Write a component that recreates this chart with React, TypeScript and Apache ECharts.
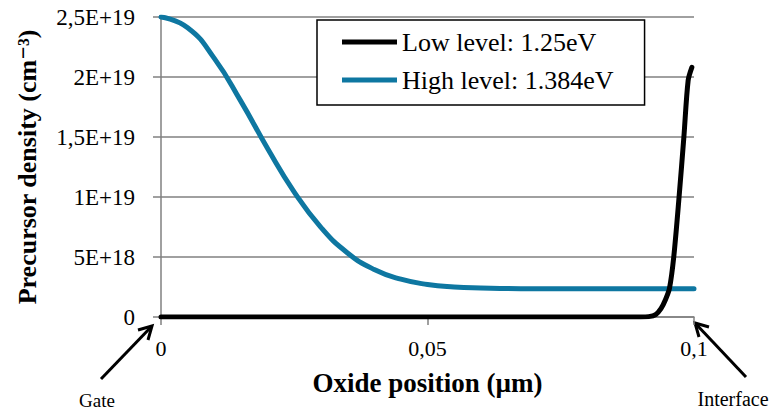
import React, { useEffect, useRef } from "react";
import * as echarts from "echarts";

// Oxide position (µm)
const lowX = [0, 0.03, 0.06, 0.085, 0.09, 0.0915, 0.0928, 0.0938, 0.0946, 0.0954, 0.0962, 0.0972, 0.0981, 0.0989, 0.0996];
const lowY = [0, 0, 0, 0, 0, 0.03e18, 0.2e18, 0.7e18, 1.4e18, 2.4e18, 5e18, 1e19, 1.5e19, 1.97e19, 2.08e19];

const highX = [0, 0.005, 0.01, 0.015, 0.02, 0.025, 0.03, 0.035, 0.04, 0.045, 0.05, 0.055, 0.06, 0.065, 0.07, 0.08, 0.09, 0.1];
const highY = [2.5e19, 2.41e19, 2.155e19, 1.797e19, 1.404e19, 1.041e19, 0.747e19, 0.534e19, 0.396e19, 0.315e19, 0.271e19, 0.25e19, 0.241e19, 0.237e19, 0.2355e19, 0.235e19, 0.235e19, 0.235e19];

const seriesNames = ["Low level: 1.25eV", "High level: 1.384eV"];
const yTickLabels = ["0", "5E+18", "1E+19", "1,5E+19", "2E+19", "2,5E+19"];
const xTickLabels = ["0", "0,05", "0,1"];

const FONT = "'Liberation Serif', 'DejaVu Serif', serif";

export default function App() {
  const ref = useRef<HTMLDivElement>(null);
  useEffect(() => {
    document.body.style.margin = "0";
    const chart = echarts.init(ref.current!, null, { renderer: "svg" });
    const grey = "#808080";
    chart.setOption({
      animation: false,
      backgroundColor: "#ffffff",
      textStyle: { fontFamily: FONT },
      grid: { left: 161, right: 83, top: 17, bottom: 95 },
      legend: {
        orient: "vertical",
        left: 317,
        top: 20,
        padding: [9, 31, 12, 25],
        itemGap: 12,
        itemWidth: 55,
        itemHeight: 14,
        backgroundColor: "#ffffff",
        borderColor: "#000000",
        borderWidth: 1.5,
        borderRadius: 0,
        icon: "path://M0,0 L55,0 L55,5 L0,5 Z",
        textStyle: { fontFamily: FONT, fontSize: 26, color: "#000", lineHeight: 26 },
        data: seriesNames,
      },
      xAxis: {
        type: "value",
        min: 0,
        max: 0.1,
        interval: 0.05,
        name: "Oxide position (µm)",
        nameLocation: "middle",
        nameGap: 52,
        nameTextStyle: { fontFamily: FONT, fontSize: 27, fontWeight: "bold", color: "#000" },
        axisLine: { show: true, onZero: false, lineStyle: { color: grey, width: 1.5 } },
        axisTick: { show: true, length: 8, lineStyle: { color: grey, width: 1.5 } },
        splitLine: { show: false },
        axisLabel: {
          margin: 20,
          fontFamily: FONT,
          fontSize: 22,
          color: "#000",
          formatter: (_v: number, i: number) => xTickLabels[i] ?? "",
        },
      },
      yAxis: {
        type: "value",
        min: 0,
        max: 2.5e19,
        interval: 5e18,
        name: "Precursor density (cm⁻³)",
        nameLocation: "middle",
        nameGap: 121,
        nameTextStyle: { fontFamily: FONT, fontSize: 26, fontWeight: "bold", color: "#000" },
        axisLine: { show: true, lineStyle: { color: grey, width: 1.5 } },
        axisTick: { show: true, length: 8, lineStyle: { color: grey, width: 1.5 } },
        splitLine: { show: true, lineStyle: { color: grey, width: 1.5 } },
        axisLabel: {
          margin: 26,
          fontFamily: FONT,
          fontSize: 23,
          color: "#000",
          formatter: (_v: number, i: number) => yTickLabels[i] ?? "",
        },
      },
      series: [
        {
          name: seriesNames[0],
          type: "line",
          data: lowX.map((x, i) => [x, lowY[i]]),
          symbol: "none",
          smooth: 0.3,
          z: 4,
          itemStyle: { color: "#000000" },
          lineStyle: { color: "#000000", width: 5, cap: "round", join: "round" },
        },
        {
          name: seriesNames[1],
          type: "line",
          data: highX.map((x, i) => [x, highY[i]]),
          symbol: "none",
          smooth: 0.5,
          z: 3,
          itemStyle: { color: "#0e77a1" },
          lineStyle: { color: "#0e77a1", width: 5, cap: "round", join: "round" },
        },
      ],
      graphic: [
        { type: "line", shape: { x1: 101, y1: 379, x2: 152, y2: 326 }, style: { stroke: "#000", lineWidth: 3 } },
        { type: "polyline", shape: { points: [[138, 330], [152, 326], [148, 340]] }, style: { stroke: "#000", lineWidth: 3, fill: null } },
        { type: "text", x: 97, y: 400, style: { text: "Gate", font: `19px ${FONT}`, fill: "#000", align: "center", verticalAlign: "middle" } },
        { type: "line", shape: { x1: 746, y1: 377, x2: 695, y2: 323 }, style: { stroke: "#000", lineWidth: 3 } },
        { type: "polyline", shape: { points: [[709, 327], [695, 323], [699, 337]] }, style: { stroke: "#000", lineWidth: 3, fill: null } },
        { type: "text", x: 733, y: 399, style: { text: "Interface", font: `20px ${FONT}`, fill: "#000", align: "center", verticalAlign: "middle" } },
      ],
    });
    return () => chart.dispose();
  }, []);
  return <div ref={ref} style={{ width: 777, height: 412 }} />;
}
